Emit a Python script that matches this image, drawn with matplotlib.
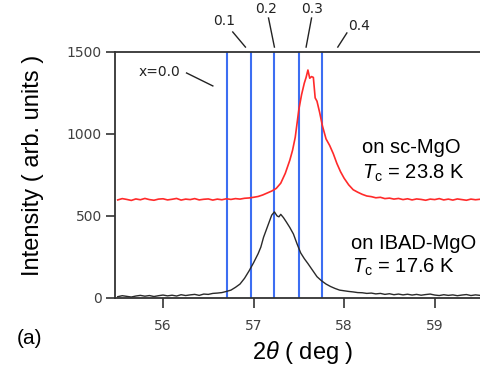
import matplotlib
matplotlib.use('Agg')
import matplotlib.pyplot as plt

plt.rcParams['font.family'] = ['Liberation Sans', 'DejaVu Sans']
plt.rcParams['mathtext.fontset'] = 'custom'
plt.rcParams['mathtext.rm'] = 'Liberation Sans'
plt.rcParams['mathtext.it'] = 'Liberation Sans:italic'

# pico sobre sc-MgO (rojo)
red_x = [55.50, 55.55, 55.60, 55.65, 55.70, 55.75, 55.80, 55.85, 55.90, 55.95,
         56.00, 56.05, 56.10, 56.15, 56.20, 56.25, 56.30, 56.35, 56.40, 56.45,
         56.50, 56.55, 56.60, 56.65, 56.70, 56.75, 56.80, 56.85, 56.90, 56.95,
         57.00, 57.05, 57.10, 57.15, 57.20, 57.25, 57.30, 57.35, 57.40, 57.43,
         57.46, 57.50, 57.53, 57.56, 57.58, 57.60, 57.62, 57.64, 57.66, 57.68,
         57.70, 57.73, 57.76, 57.80, 57.84, 57.88, 57.92, 57.96, 58.00, 58.05,
         58.10, 58.15, 58.20, 58.25, 58.30, 58.35, 58.40, 58.45, 58.50, 58.55,
         58.60, 58.65, 58.70, 58.75, 58.80, 58.85, 58.90, 58.95, 59.00, 59.05,
         59.10, 59.15, 59.20, 59.25, 59.30, 59.35, 59.40, 59.45, 59.50]
red_y = [598, 606, 601, 595, 604, 599, 607, 600, 596, 603,
         605, 598, 602, 607, 597, 603, 600, 606, 598, 602,
         604, 597, 603, 599, 605, 601, 606, 603, 608, 610,
         614, 619, 628, 640, 652, 668, 700, 760, 840, 900,
         980, 1150, 1240, 1310, 1345, 1390, 1340, 1350, 1345, 1220,
         1200, 1130, 1050, 970, 930, 880, 820, 770, 730, 690,
         660, 645, 632, 622, 618, 611, 614, 606, 609, 603,
         607, 600, 605, 598, 604, 601, 596, 603, 600, 606,
         598, 603, 597, 604, 600, 596, 603, 599, 602]

# pico sobre IBAD-MgO (negro)
blk_x = [55.50, 55.55, 55.60, 55.65, 55.70, 55.75, 55.80, 55.85, 55.90, 55.95,
         56.00, 56.05, 56.10, 56.15, 56.20, 56.25, 56.30, 56.35, 56.40, 56.45,
         56.50, 56.55, 56.60, 56.65, 56.70, 56.75, 56.80, 56.85, 56.90, 56.95,
         57.00, 57.05, 57.08, 57.11, 57.14, 57.17, 57.20, 57.23, 57.26, 57.28,
         57.30, 57.33, 57.36, 57.40, 57.44, 57.48, 57.52, 57.56, 57.60, 57.65,
         57.70, 57.75, 57.80, 57.85, 57.90, 57.95, 58.00, 58.05, 58.10, 58.15,
         58.20, 58.25, 58.30, 58.35, 58.40, 58.45, 58.50, 58.55, 58.60, 58.65,
         58.70, 58.75, 58.80, 58.85, 58.90, 58.95, 59.00, 59.05, 59.10, 59.15,
         59.20, 59.25, 59.30, 59.35, 59.40, 59.45, 59.50]
blk_y = [8, 14, 10, 6, 12, 16, 11, 15, 9, 14,
         18, 13, 17, 12, 20, 15, 19, 22, 16, 24,
         22, 28, 30, 33, 40, 48, 65, 85, 120, 165,
         215, 270, 310, 370, 415, 460, 505, 525, 500, 495,
         510, 490, 465, 430, 390, 330, 275, 240, 210, 170,
         130, 105, 85, 70, 58, 48, 44, 40, 37, 33,
         32, 28, 30, 25, 28, 22, 26, 20, 24, 19,
         23, 18, 22, 17, 21, 24, 18, 15, 20, 16,
         19, 14, 18, 21, 15, 19, 16]

# posiciones esperadas para x = 0.0 ... 0.4
comp_pos = [56.71, 56.975, 57.23, 57.50, 57.76]
comp_labels = ['x=0.0', '0.1', '0.2', '0.3', '0.4']

fig = plt.figure(figsize=(4.8, 3.7), dpi=100)
ax = fig.add_axes([0.2396, 0.1946, 0.7604, 0.6649])

ax.vlines(comp_pos, 0, 1500, color='#3d6ef2', lw=1.5, zorder=1)
ax.plot(red_x, red_y, color='#ff2a2a', lw=1.2, zorder=2)
ax.plot(blk_x, blk_y, color='#2a2a2a', lw=1.0, zorder=2)

ax.set_xlim(55.47, 59.5)
ax.set_ylim(0, 1500)
ax.set_xticks([56, 57, 58, 59])
ax.set_yticks([0, 500, 1000, 1500])
ax.spines['right'].set_visible(False)
for s in ['left', 'bottom', 'top']:
    ax.spines[s].set_color('#333333')
    ax.spines[s].set_linewidth(1.3)
ax.tick_params(axis='y', direction='out', length=6.5, width=1.2, color='#333333',
               labelsize=10, labelcolor='#404040', pad=3,
               labelfontfamily='DejaVu Sans')
ax.tick_params(axis='x', direction='out', length=7, width=1.2, color='#333333',
               labelsize=10, labelcolor='#404040', pad=8,
               labelfontfamily='DejaVu Sans')

# etiquetas de composición con líneas guía
guides = [
    ((56.26, 1372), (56.55, 1293), (55.96, 1378)),
    ((56.77, 1622), (56.91, 1530), (56.67, 1690)),
    ((57.165, 1707), (57.23, 1530), (57.14, 1762)),
    ((57.64, 1707), (57.58, 1530), (57.65, 1762)),
    ((58.03, 1616), (57.93, 1530), (58.16, 1660)),
]
for lab, (p0, p1, pt) in zip(comp_labels, guides):
    ax.plot([p0[0], p1[0]], [p0[1], p1[1]], color='#222222', lw=1.0, clip_on=False)
    ax.text(pt[0], pt[1], lab, fontsize=10, ha='center', va='center',
            color='#222222', family='DejaVu Sans')

ax.text(58.74, 915, 'on sc-MgO', fontsize=14.5, ha='center', va='center')
ax.text(58.76, 762, r'$T_{\rm c}$ = 23.8 K', fontsize=14.5, ha='center', va='center')
ax.text(58.77, 335, 'on IBAD-MgO', fontsize=14.5, ha='center', va='center')
ax.text(58.65, 189, r'$T_{\rm c}$ = 17.6 K', fontsize=14.5, ha='center', va='center')

fig.text(33 / 480, 1 - 165 / 370, 'Intensity ( arb. units )', fontsize=17,
         rotation=90, ha='center', va='center')
fig.text(303 / 480, 1 - 352 / 370, r'2$\theta$ ( deg )', fontsize=17,
         ha='center', va='center')
fig.text(30 / 480, 1 - 339 / 370, '(a)', fontsize=15, ha='center', va='center')

fig.savefig('out.png', dpi=100)
